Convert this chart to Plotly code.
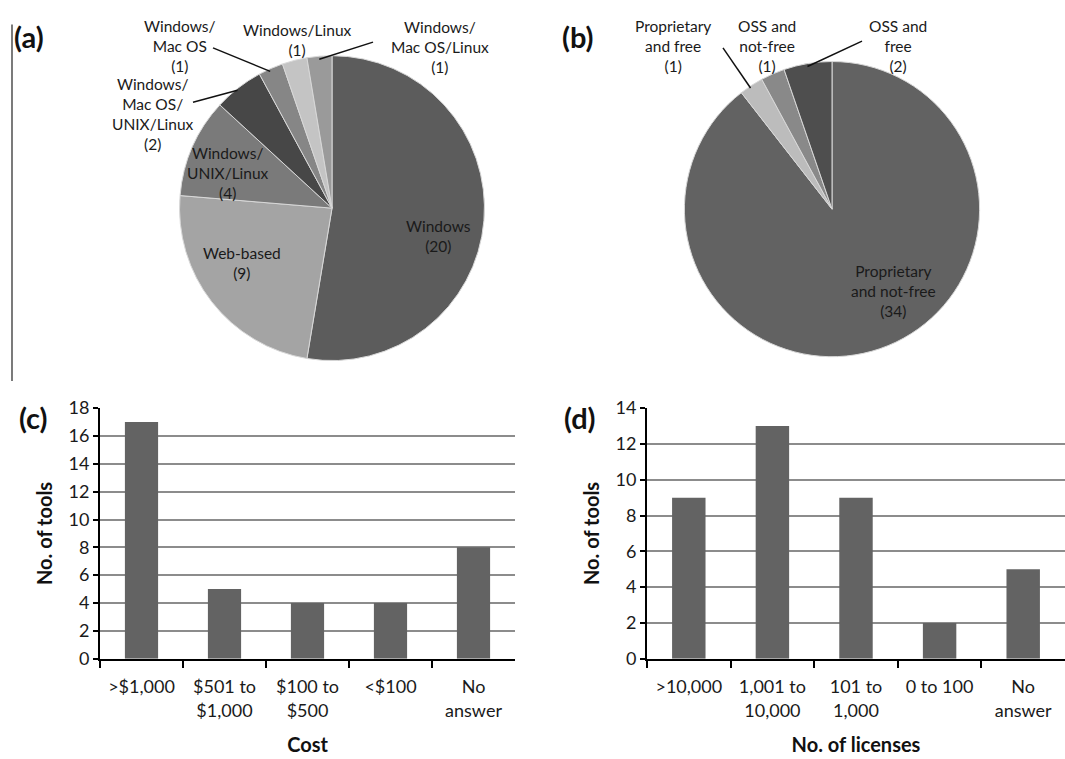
import numpy as np
import plotly.graph_objects as go

W, H = 1065, 759

# ---------------- data ----------------
os_labels = ["Windows", "Web-based", "Windows/UNIX/Linux", "Windows/Mac OS/UNIX/Linux",
             "Windows/Mac OS", "Windows/Linux", "Windows/Mac OS/Linux"]
os_values = [20, 9, 4, 2, 1, 1, 1]
os_label_lines = [["Windows"], ["Web-based"], ["Windows/", "UNIX/Linux"],
                  ["Windows/", "Mac OS/", "UNIX/Linux"], ["Windows/", "Mac OS"],
                  ["Windows/Linux"], ["Windows/", "Mac OS/Linux"]]

lic_labels = ["Proprietary and not-free", "Proprietary and free", "OSS and not-free", "OSS and free"]
lic_values = [34, 1, 1, 2]
lic_label_lines = [["Proprietary", "and not-free"], ["Proprietary", "and free"],
                   ["OSS and", "not-free"], ["OSS and", "free"]]

cost_cats = [">$1,000", "$501 to<br>$1,000", "$100 to<br>$500", "<$100", "No<br>answer"]
cost_values = [17, 5, 4, 4, 8]

licn_cats = [">10,000", "1,001 to<br>10,000", "101 to<br>1,000", "0 to 100", "No<br>answer"]
licn_values = [9, 13, 9, 2, 5]

# ---------------- styles ----------------
FONT = "Lato"
os_colors = ["#5c5c5c", "#a4a4a4", "#7a7a7a", "#474747", "#868686", "#c4c4c4", "#9a9a9a"]
lic_colors = ["#626262", "#bcbcbc", "#898989", "#4e4e4e"]
BAR_COLOR = "#636363"
GRID = "#8c8c8c"

# pie geometry in pixels (centre x, centre y, radius)
PA = (332, 202, 157)
PB = (832, 203, 152)

# label text centres (pixels) and leader line start points (pixels or None)
os_label_pos = [(438, 231), (242, 258), (228, 166), (153, 105), (180, 35), (297, 29), (440, 36)]
os_leader = [None, None, None, (193, 93), (213, 37), None, (373, 31)]
lic_label_pos = [(893, 287), (673, 35), (767, 35), (898, 35)]
lic_leader = [None, (723, 37), None, (862, 30)]


def px2paper(x, y):
    return x / W, 1 - y / H


def pie_domain(cx, cy, r):
    return dict(x=[(cx - r) / W, (cx + r) / W], y=[1 - (cy + r) / H, 1 - (cy - r) / H])


def mid_angles(values):
    v = np.asarray(values, dtype=float)
    cum = np.cumsum(v)
    start = cum - v
    return (start + v / 2) / v.sum() * 2 * np.pi


fig = go.Figure()

fig.add_trace(go.Pie(labels=os_labels, values=os_values, sort=False, direction="clockwise",
                     rotation=0, textinfo="none", hoverinfo="label+value",
                     marker=dict(colors=os_colors, line=dict(color="#d8d8d8", width=1)),
                     domain=pie_domain(*PA), showlegend=False))
fig.add_trace(go.Pie(labels=lic_labels, values=lic_values, sort=False, direction="clockwise",
                     rotation=0, textinfo="none", hoverinfo="label+value",
                     marker=dict(colors=lic_colors, line=dict(color="#d8d8d8", width=1)),
                     domain=pie_domain(*PB), showlegend=False))

fig.add_trace(go.Bar(x=cost_cats, y=cost_values, marker=dict(color=BAR_COLOR, line=dict(width=0)),
                     xaxis="x", yaxis="y", showlegend=False, width=0.4))
fig.add_trace(go.Bar(x=licn_cats, y=licn_values, marker=dict(color=BAR_COLOR, line=dict(width=0)),
                     xaxis="x2", yaxis="y2", showlegend=False, width=0.4))

annotations = []
shapes = []


def add_text(lines, cx, cy, size=15.5):
    xp, yp = px2paper(cx, cy)
    annotations.append(dict(x=xp, y=yp, xref="paper", yref="paper", text="<br>".join(lines),
                            showarrow=False, xanchor="center", yanchor="middle", align="center",
                            font=dict(family=FONT, size=size, color="#1a1a1a")))


def pie_labels(values, lines, pos, leaders, geom):
    cx, cy, r = geom
    ang = mid_angles(values)
    for k in range(len(values)):
        add_text(list(lines[k]) + ["(%d)" % values[k]], *pos[k])
        if leaders[k] is not None:
            ex = cx + 0.98 * r * np.sin(ang[k])
            ey = cy - 0.98 * r * np.cos(ang[k])
            x0, y0 = px2paper(*leaders[k])
            x1, y1 = px2paper(ex, ey)
            shapes.append(dict(type="line", xref="paper", yref="paper", x0=x0, y0=y0, x1=x1, y1=y1,
                               line=dict(color="#111", width=1.5)))


pie_labels(os_values, os_label_lines, os_label_pos, os_leader, PA)
pie_labels(lic_values, lic_label_lines, lic_label_pos, lic_leader, PB)

# panel letters
for t, (x, y) in [("(a)", (29, 25)), ("(b)", (578, 25)), ("(c)", (33, 418)), ("(d)", (580, 418))]:
    xp, yp = px2paper(x, y)
    annotations.append(dict(x=xp, y=yp, xref="paper", yref="paper", text="<b>%s</b>" % t,
                            showarrow=False, xanchor="center", yanchor="middle",
                            font=dict(family=FONT, size=29, color="#111")))

# thin vertical rule at left of panel (a)
x0, y0 = px2paper(12, 13)
x1, y1 = px2paper(12, 380)
shapes.append(dict(type="line", xref="paper", yref="paper", x0=x0, y0=y0, x1=x1, y1=y1,
                   line=dict(color="#222", width=1.2)))

tickfont = dict(family=FONT, size=18, color="#1a1a1a")
titlefont = dict(family=FONT, size=20, color="#111", weight="bold")

ydom = [1 - 666 / H, 1 - 408 / H]
common_x = dict(showline=True, linecolor="#000", linewidth=2, ticks="outside", ticklen=7,
                tickwidth=2, tickcolor="#000", tickson="boundaries", showgrid=False,
                tickfont=tickfont, fixedrange=True, ticklabelstandoff=11)
common_y = dict(showline=True, linecolor="#000", linewidth=2, ticks="outside", ticklen=5,
                tickwidth=2, tickcolor="#000", showgrid=True, gridcolor=GRID, gridwidth=2,
                zeroline=False, tickfont=tickfont, dtick=2, fixedrange=True)

fig.update_layout(
    width=W, height=H, margin=dict(l=0, r=0, t=0, b=0),
    paper_bgcolor="white", plot_bgcolor="white", bargap=0.6,
    xaxis=dict(domain=[100 / W, 515 / W], anchor="y",
               title=dict(text="Cost", font=titlefont, standoff=18), **common_x),
    yaxis=dict(domain=ydom, anchor="x", range=[0, 18],
               title=dict(text="No. of tools", font=titlefont, standoff=10), **common_y),
    xaxis2=dict(domain=[647 / W, 1.0], anchor="y2",
                title=dict(text="No. of licenses", font=titlefont, standoff=18), **common_x),
    yaxis2=dict(domain=ydom, anchor="x2", range=[0, 14],
                title=dict(text="No. of tools", font=titlefont, standoff=10), **common_y),
    annotations=annotations, shapes=shapes,
)

fig.write_html("out.html", config={"displayModeBar": False},
               post_script="document.body.style.margin='0';")
